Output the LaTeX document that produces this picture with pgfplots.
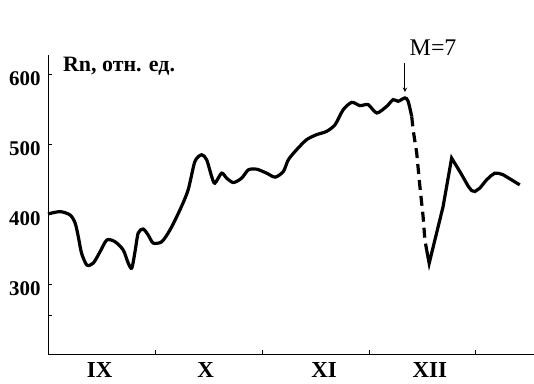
\documentclass[border=0pt]{standalone}
\usepackage{pgfplots}
\pgfplotsset{compat=1.18}
\usepackage{fontspec}
\setmainfont{Liberation Serif}
\begin{document}
\begin{tikzpicture}
\useasboundingbox (0,0) rectangle (534bp,384bp);
\begin{axis}[
  at={(48bp,30bp)}, anchor=south west,
  scale only axis, width=486bp, height=299bp,
  xmin=0, xmax=136.3, ymin=200, ymax=628,
  axis lines=left, axis line style={-, line width=0.9bp},
  clip=false,
  tick align=inside, major tick length=4bp,
  tick style={line width=0.8bp, black},
  xtick={30,60,90,120}, xticklabels={},
  extra x ticks={14.5,44.2,77.4,107.1},
  extra x tick labels={IX,X,XI,XII},
  extra x tick style={major tick length=0pt,
     xticklabel style={font=\fontsize{23}{23}\selectfont\bfseries, yshift=-5bp}},
  ytick={300,400,500,600}, yticklabels={300,400,500,600},
  yticklabel style={font=\fontsize{21}{21}\selectfont\bfseries, yshift=-4.5bp, xshift=-4bp},
  extra y ticks={255}, extra y tick labels={},
]
\addplot[black, line width=3.2bp, smooth, tension=0.45] coordinates {
(0,400.5) (3.4,403.8) (6.2,399) (7.6,387.6) (8.5,367.9) (9.4,344.5) (10.9,327.3)
(12.7,330.1) (14.6,346.4) (16.5,363.2) (18.8,360.7) (21.1,348.8) (22.5,330.1)
(23.5,323) (24.4,346.4) (25.3,373.2) (26.7,378.9) (28.1,370.3) (29.5,358.8)
(31.9,360.7) (34.2,377.5) (37.0,406.2) (39.3,434.9) (41.2,475.5) (43.1,485.2)
(44.5,478) (45.9,454) (46.8,444.5) (48.7,458.9) (50.1,451.7) (52.0,445.4)
(54.3,451.7) (56.2,463.6) (58.5,464.6) (61.3,458.9) (63.7,453.2) (66.0,461.2)
(67.4,478) (69.7,492.3) (72.5,506.7) (75.3,513.9) (78.1,518.6) (80.5,528.2)
(82.8,549.7) (85.2,560.2) (87.5,555.5) (89.8,556.9) (92.2,545) (95.0,554.6)
(96.8,564.1) (98.2,561.7) (100.1,566.6) (101.0,561.7) (102.0,540.1)
};
\addplot[black, line width=3.2bp, dash pattern=on 10bp off 6bp] coordinates {
(102.0,540.1) (102.4,521) (103.4,488) (104.3,439.7) (105.2,396.6) (105.7,363.2) (106.2,348.8)
};
\addplot[black, line width=3.2bp] coordinates {
(106.2,348.8) (106.9,329.7) (108.5,363.2) (110.8,410.9) (113.2,480.4)
(115.5,461.2) (117.9,439.7) (118.8,434) (119.7,432.5) (121.1,437.4) (123.0,449.3)
(124.2,455) (125.3,458.9) (126.5,458.5) (127.7,456.4) (130.0,449.3) (132.3,442.1)
};
\draw[black, line width=1bp, -stealth] (axis cs:100.1,617) -- (axis cs:100.1,575);
\node[anchor=base west, font=\fontsize{22}{22}\selectfont\bfseries, inner sep=0pt]
  at (axis cs:4.2,604.3) {Rn, отн. ед.};
\node[font=\fontsize{24}{24}\selectfont, inner sep=0pt] at (axis cs:108,638.7) {M=7};
\end{axis}
\end{tikzpicture}
\end{document}
